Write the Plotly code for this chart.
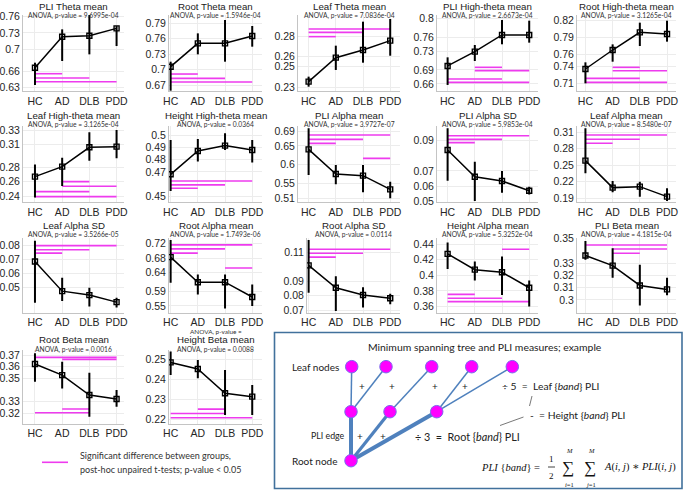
import plotly.graph_objects as go

W, H = 685, 492
groups = ["HC", "AD", "DLB", "PDD"]

titles = ["PLI Theta mean", "Root Theta mean", "Leaf Theta mean", "PLI High-theta mean",
          "Root High-theta mean", "Leaf High-theta mean", "Height High-theta mean",
          "PLI Alpha mean", "PLI Alpha SD", "Leaf Alpha mean", "Leaf Alpha SD",
          "Root Alpha mean", "Root Alpha SD", "Height Alpha mean", "PLI Beta mean",
          "Root Beta mean", "Height Beta mean"]

pvalues = ["9.6995e-04", "1.5946e-04", "7.0836e-04", "2.6673e-04", "3.1265e-04",
           "3.1265e-04", "0.0364", "3.9727e-07", "5.9853e-04", "8.5480e-07",
           "3.5266e-05", "1.7493e-06", "0.0114", "5.3252e-04", "4.1815e-04",
           "0.0016", "0.0088"]

means = [
    [0.6662, 0.7232, 0.7250, 0.7385],
    [0.7057, 0.7511, 0.7511, 0.7654],
    [0.2355, 0.2589, 0.2664, 0.2755],
    [0.6984, 0.7289, 0.7645, 0.7645],
    [0.7349, 0.7679, 0.7986, 0.7957],
    [0.2670, 0.2805, 0.3066, 0.3075],
    [0.4681, 0.4870, 0.4914, 0.4878],
    [0.6410, 0.5750, 0.5706, 0.5340],
    [0.0835, 0.0662, 0.0634, 0.0571],
    [0.2585, 0.2094, 0.2112, 0.1930],
    [0.0688, 0.0476, 0.0448, 0.0398],
    [0.6827, 0.6145, 0.6145, 0.5742],
    [0.1009, 0.0855, 0.0805, 0.0782],
    [0.4276, 0.4073, 0.4039, 0.3841],
    [0.3362, 0.3279, 0.3118, 0.3086],
    [0.3623, 0.3528, 0.3357, 0.3323],
    [0.2483, 0.2450, 0.2329, 0.2312],
]

upper = [
    [0.6754, 0.7367, 0.7692, 0.7428],
    [0.7154, 0.7705, 0.7965, 0.7848],
    [0.2404, 0.2706, 0.2940, 0.2966],
    [0.7168, 0.7431, 0.7964, 0.7950],
    [0.7465, 0.7777, 0.8154, 0.8188],
    [0.2834, 0.2926, 0.3268, 0.3300],
    [0.4959, 0.4968, 0.5014, 0.4959],
    [0.6971, 0.5990, 0.5990, 0.5545],
    [0.0976, 0.0759, 0.0699, 0.0597],
    [0.3173, 0.2215, 0.2203, 0.2082],
    [0.0835, 0.0571, 0.0500, 0.0429],
    [0.7293, 0.6352, 0.6352, 0.6083],
    [0.1184, 0.0934, 0.0859, 0.0814],
    [0.4420, 0.4179, 0.4242, 0.3934],
    [0.3480, 0.3421, 0.3287, 0.3180],
    [0.3715, 0.3643, 0.3548, 0.3400],
    [0.2537, 0.2495, 0.2445, 0.2370],
]

lower = [
    [0.6343, 0.6785, 0.6907, 0.7060],
    [0.6590, 0.7297, 0.7154, 0.7446],
    [0.2306, 0.2469, 0.2540, 0.2608],
    [0.6579, 0.7090, 0.7446, 0.7481],
    [0.7100, 0.7476, 0.7748, 0.7824],
    [0.2387, 0.2544, 0.2886, 0.2917],
    [0.4546, 0.4784, 0.4878, 0.4776],
    [0.5724, 0.5474, 0.5260, 0.5100],
    [0.0636, 0.0504, 0.0558, 0.0546],
    [0.2355, 0.2009, 0.1927, 0.1852],
    [0.0394, 0.0406, 0.0366, 0.0359],
    [0.6127, 0.5813, 0.5428, 0.5500],
    [0.0820, 0.0695, 0.0718, 0.0741],
    [0.4082, 0.3934, 0.3748, 0.3600],
    [0.3327, 0.3180, 0.2954, 0.3038],
    [0.3471, 0.3414, 0.3171, 0.3257],
    [0.2420, 0.2404, 0.2220, 0.2220],
]

# significant post-hoc pairs: (group a, group b, level)
sig_pairs = [
    [("HC", "AD", 0.6551), ("HC", "DLB", 0.6471), ("HC", "PDD", 0.6404)],
    [("HC", "AD", 0.6914), ("HC", "DLB", 0.6830), ("HC", "PDD", 0.6759)],
    [("HC", "PDD", 0.2868), ("HC", "DLB", 0.2836), ("HC", "AD", 0.2794)],
    [("AD", "DLB", 0.6955), ("AD", "PDD", 0.6884), ("HC", "DLB", 0.6706), ("HC", "PDD", 0.6635)],
    [("AD", "DLB", 0.7378), ("AD", "PDD", 0.7320), ("HC", "DLB", 0.7187), ("HC", "PDD", 0.7117)],
    [("AD", "DLB", 0.2602), ("AD", "PDD", 0.2539), ("HC", "DLB", 0.2467), ("HC", "PDD", 0.2400)],
    [("HC", "PDD", 0.4627), ("HC", "DLB", 0.4595), ("HC", "AD", 0.4568)],
    [("HC", "PDD", 0.6793), ("HC", "DLB", 0.6677), ("HC", "AD", 0.6570), ("DLB", "PDD", 0.6169)],
    [("HC", "PDD", 0.0928), ("HC", "DLB", 0.0904), ("HC", "AD", 0.0883)],
    [("HC", "PDD", 0.3052), ("HC", "DLB", 0.2973), ("HC", "AD", 0.2900)],
    [("HC", "PDD", 0.0801), ("HC", "DLB", 0.0771), ("HC", "AD", 0.0747)],
    [("HC", "PDD", 0.7159), ("HC", "DLB", 0.7051), ("HC", "AD", 0.6935), ("DLB", "PDD", 0.6531)],
    [("HC", "PDD", 0.1120), ("HC", "DLB", 0.1093), ("HC", "AD", 0.1066)],
    [("DLB", "PDD", 0.4335), ("HC", "AD", 0.3756), ("HC", "DLB", 0.3706), ("HC", "PDD", 0.3663)],
    [("HC", "PDD", 0.3447), ("AD", "PDD", 0.3415), ("AD", "DLB", 0.3380)],
    [("HC", "PDD", 0.3680), ("AD", "PDD", 0.3663), ("AD", "DLB", 0.3237), ("HC", "DLB", 0.3205)],
    [("AD", "DLB", 0.2250), ("HC", "DLB", 0.2228), ("HC", "PDD", 0.2207)],
]

yticks = [
    [0.63, 0.66, 0.7, 0.73, 0.76],
    [0.67, 0.7, 0.73, 0.76, 0.79],
    [0.23, 0.25, 0.26, 0.28],
    [0.66, 0.69, 0.73, 0.76, 0.8],
    [0.71, 0.74, 0.76, 0.79, 0.82],
    [0.24, 0.26, 0.28, 0.31, 0.33],
    [0.45, 0.47, 0.48, 0.49, 0.5],
    [0.51, 0.55, 0.6, 0.65, 0.69],
    [0.05, 0.06, 0.07, 0.09],
    [0.19, 0.22, 0.25, 0.28, 0.31],
    [0.05, 0.06, 0.07, 0.08],
    [0.55, 0.59, 0.64, 0.68, 0.72],
    [0.07, 0.08, 0.09, 0.11],
    [0.36, 0.38, 0.4, 0.42, 0.44],
    [0.3, 0.31, 0.32, 0.33, 0.35],
    [0.32, 0.33, 0.35, 0.36, 0.37],
    [0.22, 0.23, 0.24, 0.25],
]

legend_text = ["Significant difference between groups,",
               "post-hoc unpaired t-tests; p-value < 0.05"]

# ---------------- layout (pixel geometry) ----------------
col_x = [(23, 124), (169, 262), (298, 400), (437, 538), (577, 676)]
row_y = [(15, 91), (126, 202.3), (238, 312.5), (350, 423.5)]
title_y = [6.3, 115, 225, 339.8]
anova_y = [15.8, 124.3, 234.3, 349.5]
x_left = [-0.44, -0.06, -0.39, -0.39, -0.31]
PX_PER_CAT = 27.2

y_ranges = [
    (0.6233, 0.7631), (0.6584, 0.8062), (0.2264, 0.3005), (0.6450, 0.8071), (0.6967, 0.8287),
    (0.2323, 0.3354), (0.4454, 0.5073), (0.4993, 0.7034), (0.0496, 0.0991), (0.1827, 0.3215),
    (0.0324, 0.0855), (0.5320, 0.7347), (0.0684, 0.1198), (0.3524, 0.4479), (0.2898, 0.3504),
    (0.3113, 0.3743), (0.2178, 0.2545),
]

MAG = "#ee3bee"
TICKFONT = dict(family="Liberation Sans, Arial", size=10.5, color="#262626")
CAL = "Lato, Open Sans, sans-serif"

fig = go.Figure()
layout = dict(width=W, height=H, margin=dict(l=0, r=0, t=0, b=0, autoexpand=False),
              paper_bgcolor="white", plot_bgcolor="rgba(0,0,0,0)", showlegend=False)
annotations = []
shapes = []

def ann(x, y, text, size, family=CAL, color="#222", xanchor="center", **kw):
    annotations.append(dict(x=x, y=y, xref="x18", yref="y18", text=text, showarrow=False,
                            xanchor=xanchor, yanchor="middle",
                            font=dict(family=family, size=size, color=color), **kw))

for i in range(17):
    r, c = divmod(i, 5)
    x0, x1 = col_x[c]
    xl = x_left[c]
    if i == 12:  # Root Alpha SD starts at HC
        x0, xl = 307, -0.06
    y0, y1 = row_y[r]
    xr = xl + (x1 - x0) / PX_PER_CAT
    n = i + 1
    xa, ya = f"x{n}", f"y{n}"
    for a, b, lvl in sig_pairs[i]:
        fig.add_trace(go.Scatter(x=[a, b], y=[lvl, lvl], mode="lines",
                                 line=dict(color=MAG, width=1.6),
                                 xaxis=xa, yaxis=ya, hoverinfo="skip"))
    m = means[i]
    fig.add_trace(go.Scatter(
        x=groups, y=m, mode="lines+markers", xaxis=xa, yaxis=ya,
        line=dict(color="black", width=1.5),
        marker=dict(symbol="square-open", size=5, color="black", line=dict(width=1.4)),
        error_y=dict(type="data", symmetric=False,
                     array=[u - v for u, v in zip(upper[i], m)],
                     arrayminus=[v - l for v, l in zip(m, lower[i])],
                     thickness=2, width=0, color="black")))
    layout[f"xaxis{n}"] = dict(domain=[x0 / W, x1 / W], anchor=ya, type="category",
                               categoryorder="array", categoryarray=groups,
                               range=[xl, xr], showgrid=True, gridcolor="#ececec",
                               showline=True, linecolor="#c4c4c4", linewidth=1,
                               ticks="", tickfont=TICKFONT, zeroline=False, fixedrange=True,
                               automargin=False)
    layout[f"yaxis{n}"] = dict(domain=[1 - y1 / H, 1 - y0 / H], anchor=xa,
                               range=list(y_ranges[i]), tickvals=yticks[i],
                               ticktext=[f"{v:g}" for v in yticks[i]],
                               showgrid=True, gridcolor="#ececec", showline=True,
                               linecolor="#c4c4c4", linewidth=1, ticks="",
                               tickfont=TICKFONT, zeroline=False, fixedrange=True,
                               automargin=False)
    cx = (x0 + x1) / 2
    ann(cx, title_y[r], titles[i], 9.7, family="Liberation Sans, Arial", color="#1a1a1a")
    ann(cx, anova_y[r], f"ANOVA, p-value = {pvalues[i]}", 6.7, color="#333")

ann((col_x[1][0] + col_x[1][1]) / 2, 331.2, "ANOVA, p-value =", 6.4, color="#333")

# overlay pixel axis for legend + diagram
layout["xaxis18"] = dict(domain=[0, 1], range=[0, W], visible=False, anchor="y18",
                         fixedrange=True, automargin=False)
layout["yaxis18"] = dict(domain=[0, 1], range=[H, 0], visible=False, anchor="x18",
                         fixedrange=True, automargin=False)

# legend
fig.add_trace(go.Scatter(x=[42, 68], y=[462.3, 462.3], mode="lines", line=dict(color=MAG, width=1.6),
                         xaxis="x18", yaxis="y18", hoverinfo="skip"))
ann(77.7, 455, legend_text[0], 9, xanchor="left", color="#333")
ann(77.7, 469.5, legend_text[1], 9, xanchor="left", color="#333")

# diagram
leaf_x = [351.7, 386, 431.7, 471.7, 512.3]
leaf_y = 366.7
mid_x = [351, 390, 436.7]
mid_y = 411.7
root_xy = (351, 460.7)
leaf_parent = [0, 0, 1, 2, 2]
edge_w = [4, 3.2, 4]
EDGE = "#4f81bd"

shapes.append(dict(type="rect", xref="x18", yref="y18", x0=274.5, x1=682, y0=332.5, y1=488.5,
                   line=dict(color="#41719c", width=1.6), layer="below"))
for lx, p in zip(leaf_x, leaf_parent):
    fig.add_trace(go.Scatter(x=[lx, mid_x[p]], y=[leaf_y, mid_y], mode="lines",
                             line=dict(color=EDGE, width=1.5), xaxis="x18", yaxis="y18"))
for mx, w in zip(mid_x, edge_w):
    fig.add_trace(go.Scatter(x=[root_xy[0], mx], y=[root_xy[1], mid_y], mode="lines",
                             line=dict(color=EDGE, width=w), xaxis="x18", yaxis="y18"))
fig.add_trace(go.Scatter(x=[532, 529.5], y=[396, 406], mode="lines",
                         line=dict(color="#555", width=0.8), xaxis="x18", yaxis="y18"))
fig.add_trace(go.Scatter(x=[500, 523.5], y=[425.5, 417], mode="lines",
                         line=dict(color="#555", width=0.8), xaxis="x18", yaxis="y18"))
fig.add_trace(go.Scatter(x=leaf_x + mid_x + [root_xy[0]],
                         y=[leaf_y] * 5 + [mid_y] * 3 + [root_xy[1]],
                         mode="markers", marker=dict(size=12.5, color="#ff00ff",
                                                     line=dict(color="#7b68ee", width=1)),
                         xaxis="x18", yaxis="y18"))

ann(484.5, 347.3, "Minimum spanning tree and PLI measures; example", 10.4)
ann(340.5, 366.7, "Leaf nodes", 10, xanchor="right")
ann(338.5, 460.7, "Root node", 10, xanchor="right")
ann(346.8, 435, "PLI edge", 8.8, xanchor="right")
for px in [362.3, 392.3, 435, 465]:
    ann(px, 386, "+", 10)
for px in [360, 383.3]:
    ann(px, 435.5, "+", 10)
ann(499.5, 386, "÷ 5  =  Leaf {<i>band</i>} PLI", 10.3, xanchor="left")
ann(528, 415, "-  = Height {<i>band</i>} PLI", 10.3, xanchor="left")
ann(413, 436.7, "÷ 3  =  Root {<i>band</i>} PLI", 10.8, xanchor="left")

SERIF = "Liberation Serif, DejaVu Serif, serif"
ann(542, 467.3, "<i>PLI</i> {<i>band</i>} =", 10.5, family=SERIF, color="#111", xanchor="right")
ann(551.5, 459, "1", 9, family=SERIF, color="#111")
ann(551.5, 475.5, "2", 9, family=SERIF, color="#111")
shapes.append(dict(type="line", xref="x18", yref="y18", x0=548, x1=555, y0=467, y1=467,
                   line=dict(color="#111", width=0.8)))
for sx, sub in [(568, "<i>i</i>=1"), (590, "<i>j</i>=1")]:
    ann(sx, 467.5, "∑", 17, family=SERIF, color="#111")
    ann(sx + 1, 450.5, "<i>M</i>", 6.5, family=SERIF, color="#111")
    ann(sx + 1, 484, sub, 6.5, family=SERIF, color="#111")
ann(602, 467.3, "<i>A</i>(<i>i</i>, <i>j</i>) ∗ <i>PLI</i>(<i>i</i>, <i>j</i>)", 10.5,
    family=SERIF, color="#111", xanchor="left")

for t in fig.data:
    if t.xaxis == "x18":
        t.hoverinfo = "skip"

layout["annotations"] = annotations
layout["shapes"] = shapes
fig.update_layout(**layout)
fig.write_html("out.html", config={"displayModeBar": False},
               post_script="document.body.style.margin='0';document.body.style.overflow='hidden';")
